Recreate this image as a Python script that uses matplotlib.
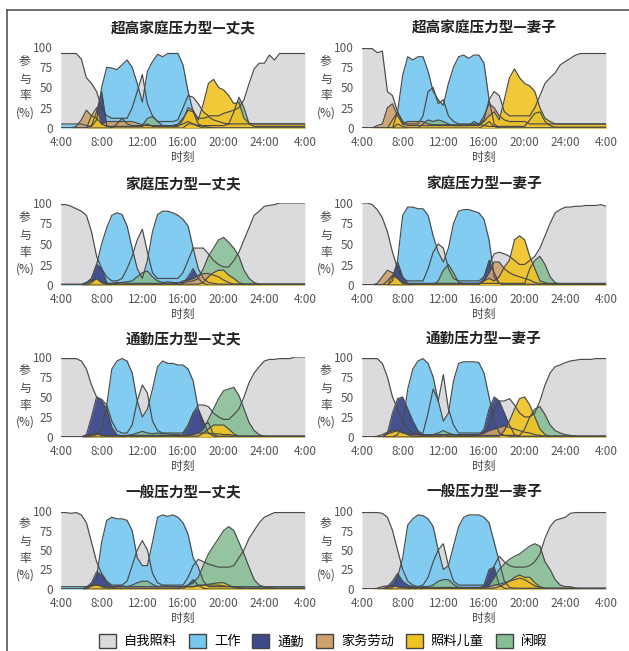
import numpy as np
import matplotlib.pyplot as plt
from matplotlib.patches import Patch
from matplotlib.lines import Line2D

plt.rcParams['font.family'] = ['Noto Sans CJK SC', 'DejaVu Sans']

# 时间轴: 4:00 到次日 4:00, 每半小时一个点
hours = np.arange(4, 28.5, 0.5)
tick_hours = [4, 8, 12, 16, 20, 24, 28]
tick_labels = ['4:00', '8:00', '12:00', '16:00', '20:00', '24:00', '4:00']
activities = ['自我照料', '工作', '通勤', '家务劳动', '照料儿童', '闲暇']
titles = ['超高家庭压力型—丈夫', '超高家庭压力型—妻子',
          '家庭压力型—丈夫', '家庭压力型—妻子',
          '通勤压力型—丈夫', '通勤压力型—妻子',
          '一般压力型—丈夫', '一般压力型—妻子']

# 超高家庭压力型—丈夫
p1_self = [92,92,92,92,85,62,55,45,25,15,12,12,12,12,25,45,66,30,15,8,8,8,8,10,25,40,38,30,20,15,15,15,18,20,22,25,35,55,73,80,80,90,84,92,92,92,92,92,92]
p1_work = [5,5,5,5,5,3,2,10,50,75,74,72,78,84,75,55,32,70,82,91,88,92,92,92,78,45,20,5,2,1,0,0,0,0,0,0,0,0,0,0,0,0,0,0,0,0,0,0,0]
p1_commute = [0,0,0,0,0,0,3,20,45,3,0,0,0,0,0,0,0,0,0,0,0,0,0,0,0,5,5,2,0,0,0,0,0,0,0,0,0,0,0,0,0,0,0,0,0,0,0,0,0]
p1_house = [0,0,0,2,10,22,15,12,5,8,8,8,8,8,8,6,4,3,3,3,3,3,3,5,12,22,20,12,12,14,10,8,6,5,5,5,5,5,5,5,5,5,5,5,5,5,5,5,5]
p1_child = [0,0,0,0,0,0,15,25,5,2,2,2,2,2,2,2,2,5,2,2,2,2,2,2,10,25,22,10,30,55,60,50,47,40,30,32,12,6,5,5,5,5,5,5,5,5,5,5,5]
p1_leisure = [0,0,0,0,0,0,0,0,0,0,0,5,12,5,3,3,3,12,14,8,3,3,3,3,5,8,5,3,3,3,3,3,3,5,20,38,25,5,2,2,2,2,2,2,2,2,2,2,2]

# 超高家庭压力型—妻子
p2_self = [98,98,98,93,95,45,40,20,8,5,5,5,15,45,50,30,35,15,8,5,5,5,5,5,10,35,45,40,20,15,15,15,15,15,25,40,55,62,68,78,82,86,90,92,92,92,92,92,92]
p2_work = [0,0,0,0,0,0,0,20,65,88,84,88,88,70,45,35,28,55,75,88,90,86,90,90,80,35,5,0,0,0,0,0,0,0,0,0,0,0,0,0,0,0,0,0,0,0,0,0,0]
p2_commute = [0,0,0,0,0,0,0,5,2,0,0,0,0,0,0,0,0,0,0,0,0,0,0,0,3,8,2,0,0,0,0,0,0,0,0,0,0,0,0,0,0,0,0,0,0,0,0,0,0]
p2_house = [0,0,0,3,5,25,30,15,5,8,8,8,8,5,4,4,4,4,4,4,4,4,4,4,15,30,25,15,10,8,8,8,8,5,5,5,5,5,5,5,5,5,5,5,5,5,5,5,5]
p2_child = [0,0,0,0,0,0,10,20,5,3,3,3,3,3,3,3,3,3,3,3,3,3,3,3,8,15,20,10,35,62,73,62,55,52,45,25,12,8,5,5,5,5,5,5,5,5,5,5,5]
p2_leisure = [0,0,0,0,0,0,0,0,0,0,0,0,5,10,8,10,8,5,3,3,3,3,8,5,3,2,2,2,2,2,2,2,2,10,18,20,8,3,1,1,1,1,1,1,1,1,1,1,1]

# 家庭压力型—丈夫
p3_self = [98,98,96,93,90,85,65,35,20,10,5,5,8,20,35,55,68,40,15,8,8,8,8,8,15,30,45,45,45,38,30,25,22,22,30,40,55,70,85,90,96,97,98,100,100,100,100,100,100]
p3_work = [1,1,1,1,1,3,8,25,50,70,85,88,86,72,45,20,8,30,65,86,90,90,88,85,80,72,45,20,8,3,2,1,1,1,1,1,1,1,1,1,1,1,1,1,1,1,1,1,1]
p3_commute = [0,0,0,0,0,2,8,25,20,3,0,0,0,0,0,0,0,0,0,0,0,0,0,0,2,10,20,8,2,0,0,0,0,0,0,0,0,0,0,0,0,0,0,0,0,0,0,0,0]
p3_house = [0,0,0,0,0,3,5,8,3,2,2,2,3,2,2,2,2,2,2,2,2,2,2,2,5,6,8,12,14,14,12,10,6,3,1,1,1,1,1,1,1,1,1,1,1,1,1,1,1]
p3_child = [0,0,0,0,0,0,3,8,3,1,1,1,1,1,1,1,1,1,1,1,1,1,1,1,1,1,1,1,3,10,15,18,18,12,8,3,1,1,1,1,1,1,1,1,1,1,1,1,1]
p3_leisure = [0,0,0,0,0,0,0,0,0,0,2,3,3,4,5,10,15,17,10,5,3,4,3,3,3,4,5,8,20,35,45,55,58,52,45,35,18,8,3,1,0,0,0,0,0,0,0,0,0]

# 家庭压力型—妻子
p4_self = [100,100,98,92,82,65,40,20,8,5,5,5,5,20,40,50,45,20,8,5,5,5,5,5,10,25,38,40,38,35,30,25,25,30,35,45,60,75,88,92,95,95,96,96,97,97,97,98,96]
p4_work = [0,0,0,0,0,0,5,30,85,95,95,93,93,85,60,40,28,45,75,90,92,92,90,88,80,55,10,2,1,1,1,1,1,1,1,1,2,2,2,2,2,2,2,2,2,2,2,2,2]
p4_commute = [0,0,0,0,0,0,10,28,10,2,0,0,0,0,0,0,0,0,0,0,0,0,0,0,10,30,15,2,0,0,0,0,0,0,0,0,0,0,0,0,0,0,0,0,0,0,0,0,0]
p4_house = [0,0,0,2,10,18,15,8,3,2,2,2,2,2,2,2,2,2,2,2,2,2,2,2,5,15,28,28,20,15,12,10,8,6,3,2,1,1,1,1,1,1,1,1,1,1,1,1,1]
p4_child = [0,0,0,0,0,5,12,8,2,1,1,1,1,1,1,1,1,1,1,1,1,1,1,1,5,8,5,10,22,30,55,60,55,35,20,5,3,1,1,1,1,1,1,1,1,1,1,1,1]
p4_leisure = [0,0,0,0,0,0,0,0,0,0,0,0,0,0,0,5,18,25,15,3,2,2,2,2,2,2,2,2,2,2,2,2,2,20,30,35,25,10,3,1,0,0,0,0,0,0,0,0,0]

# 通勤压力型—丈夫
p5_self = [98,98,98,98,95,85,65,50,47,40,20,8,5,5,15,45,65,55,20,8,5,5,5,5,5,15,30,40,40,38,30,25,22,22,28,35,50,68,80,88,95,97,97,98,98,98,100,100,100]
p5_work = [0,0,0,0,0,0,1,3,10,40,85,95,98,95,80,45,25,35,60,88,95,92,92,90,90,85,70,35,15,18,3,1,1,1,1,1,1,1,1,1,1,1,1,1,1,1,1,1,1]
p5_commute = [0,0,0,0,0,3,25,50,45,35,12,3,1,0,0,0,0,0,0,0,0,0,0,0,3,12,30,35,20,5,1,0,0,0,0,0,0,0,0,0,0,0,0,0,0,0,0,0,0]
p5_house = [0,0,0,0,0,2,3,4,2,2,2,2,2,2,2,2,2,2,2,2,2,2,2,2,2,3,4,5,5,5,4,4,3,3,2,1,1,1,1,1,1,1,1,1,1,1,1,1,1]
p5_child = [0,0,0,0,0,0,3,5,2,1,1,1,1,1,1,1,1,1,1,1,1,1,1,1,1,1,1,1,5,10,15,15,15,10,4,1,1,1,1,1,1,1,1,1,1,1,1,1,1]
p5_leisure = [0,0,0,0,0,0,0,0,0,0,0,0,0,2,3,5,7,5,4,5,4,4,3,3,2,2,3,5,10,22,35,48,58,60,62,52,35,18,8,3,1,0,0,0,0,0,0,0,0]

# 通勤压力型—妻子
p6_self = [98,98,98,98,92,75,50,35,20,10,5,3,5,30,60,45,78,35,15,5,5,5,5,5,5,15,35,45,45,48,40,30,25,25,30,45,65,80,88,90,93,95,96,97,97,97,98,98,98]
p6_work = [0,0,0,0,0,0,0,3,15,60,85,95,98,92,75,45,20,30,70,92,94,94,94,93,80,50,20,5,2,1,1,1,1,1,1,1,1,1,1,1,1,1,1,1,1,1,1,1,1]
p6_commute = [0,0,0,0,0,5,30,48,50,35,20,8,3,1,1,1,3,1,1,1,1,1,1,2,10,35,50,45,30,15,3,0,0,0,0,0,0,0,0,0,0,0,0,0,0,0,0,0,0]
p6_house = [0,0,0,1,3,6,8,8,5,4,3,3,3,3,3,3,3,3,3,3,3,3,3,3,5,8,10,12,14,12,10,8,6,5,3,2,1,1,1,1,1,1,1,1,1,1,1,1,1]
p6_child = [0,0,0,0,0,4,6,8,6,3,1,1,1,1,1,1,1,1,1,1,1,1,1,1,1,1,1,1,8,20,35,48,50,40,25,10,3,1,1,1,1,1,1,1,1,1,1,1,1]
p6_leisure = [0,0,0,0,0,0,0,0,0,0,0,0,2,2,3,5,8,5,3,2,2,2,2,2,2,2,2,2,2,2,2,2,10,25,35,38,28,15,8,5,3,2,1,0,0,0,0,0,0]

# 一般压力型—丈夫
p7_self = [98,98,97,98,95,85,60,35,20,10,5,5,5,10,30,50,62,50,20,8,5,5,5,5,5,15,30,38,35,32,30,28,28,28,30,40,50,65,75,85,92,95,98,98,98,98,98,98,98]
p7_work = [3,3,3,3,3,3,5,15,60,88,92,90,90,88,75,40,30,30,60,92,95,93,95,92,85,70,40,28,10,3,3,3,3,3,3,3,3,3,3,3,3,3,3,3,3,3,3,3,3]
p7_commute = [0,0,0,0,0,2,8,22,18,8,3,0,0,0,0,0,0,0,0,0,0,0,0,0,0,5,12,5,1,0,0,0,0,0,0,0,0,0,0,0,0,0,0,0,0,0,0,0,0]
p7_house = [0,0,0,0,0,2,4,5,4,3,3,3,3,3,3,3,3,3,3,3,3,3,3,3,3,3,3,4,5,5,5,5,4,3,3,2,1,1,1,1,1,1,1,1,1,1,1,1,1]
p7_child = [0,0,0,0,0,0,4,6,3,1,1,1,1,1,1,1,1,1,1,1,1,1,1,1,3,3,3,5,5,6,7,8,8,5,2,1,1,1,1,1,1,1,1,1,1,1,1,1,1]
p7_leisure = [0,0,0,0,0,0,0,0,0,0,3,4,4,3,5,8,10,10,6,3,4,4,3,3,3,5,8,15,30,45,55,65,75,80,75,60,45,28,12,5,3,2,1,0,0,0,0,0,0]

# 一般压力型—妻子
p8_self = [98,98,98,98,97,92,75,50,25,10,5,3,5,15,35,50,58,30,10,5,5,5,5,5,5,10,30,42,35,30,28,28,28,30,35,45,65,80,88,90,92,97,98,98,98,98,98,98,98]
p8_work = [0,0,0,0,0,0,2,15,40,82,90,95,94,90,80,50,25,30,55,80,92,95,95,95,92,85,60,35,10,2,1,1,1,1,1,1,1,1,1,1,1,1,1,1,1,1,1,1,1]
p8_commute = [0,0,0,0,0,3,10,20,10,5,3,2,0,0,0,0,0,0,0,0,0,0,0,0,5,25,28,5,1,0,0,0,0,0,0,0,0,0,0,0,0,0,0,0,0,0,0,0,0]
p8_house = [0,0,0,1,3,4,4,3,2,2,2,2,2,2,2,2,2,2,2,2,2,2,2,2,2,3,5,6,8,10,12,14,12,8,4,2,1,1,1,1,1,1,1,1,1,1,1,1,1]
p8_child = [0,0,0,0,0,2,4,3,2,1,1,1,1,1,1,1,1,1,1,1,1,1,1,1,1,1,1,3,6,10,15,18,15,15,8,3,1,0,0,0,0,0,0,0,0,0,0,0,0]
p8_leisure = [0,0,0,0,0,0,0,0,0,0,0,2,3,3,5,10,12,12,6,2,2,2,2,2,2,5,15,25,32,38,42,45,50,55,58,55,35,25,12,5,3,3,1,0,0,0,0,0,0]

panels = [
    [p1_self, p1_work, p1_commute, p1_house, p1_child, p1_leisure],
    [p2_self, p2_work, p2_commute, p2_house, p2_child, p2_leisure],
    [p3_self, p3_work, p3_commute, p3_house, p3_child, p3_leisure],
    [p4_self, p4_work, p4_commute, p4_house, p4_child, p4_leisure],
    [p5_self, p5_work, p5_commute, p5_house, p5_child, p5_leisure],
    [p6_self, p6_work, p6_commute, p6_house, p6_child, p6_leisure],
    [p7_self, p7_work, p7_commute, p7_house, p7_child, p7_leisure],
    [p8_self, p8_work, p8_commute, p8_house, p8_child, p8_leisure],
]

colors = ['#dbdbdd', '#76c8ef', '#3e4a8c', '#cfa26c', '#f0c322', '#86bd93']
alphas = [1.0, 0.92, 0.95, 0.9, 0.9, 0.88]
draw_order = [0, 1, 2, 5, 3, 4]   # 照料儿童画在最上层

W, H = 629, 651
col_left = [61, 362]
row_px = [(47, 128), (203, 285), (357, 437), (511, 589)]   # (100%, 0%) 的像素位置

fig = plt.figure(figsize=(W / 100, H / 100), dpi=100)

for i, vals in enumerate(panels):
    r, c = divmod(i, 2)
    top, bot = row_px[r]
    ax = fig.add_axes([col_left[c] / W, 1 - bot / H, 244 / W, (bot - top) / H])
    for k in draw_order:
        ax.fill_between(hours, vals[k], color=colors[k], alpha=alphas[k], lw=0)
        ax.plot(hours, vals[k], color='#4a4a4a', lw=0.85)
    ax.set_xlim(4, 28)
    ax.set_ylim(0, 100)
    ax.set_xticks(tick_hours)
    ax.set_xticklabels(tick_labels)
    ax.set_yticks([0, 25, 50, 75, 100])
    ax.tick_params(length=0, labelsize=8.5, colors='#555555', pad=6)
    for s in ax.spines.values():
        s.set_visible(False)
    ax.set_xlabel('时刻', fontsize=8.5, color='#444444', labelpad=1)
    ax.text(-0.148, 0.5, '参\n与\n率\n(%)', transform=ax.transAxes, ha='center', va='center',
            fontsize=8.5, color='#444444', linespacing=1.4)
    ax.text(0.5, 1 + 19 / (bot - top), titles[i], transform=ax.transAxes, ha='center', va='center',
            fontsize=10.5, fontweight='bold', color='#222222')

handles = [Patch(facecolor=colors[k], edgecolor='#444444', lw=1) for k in range(6)]
fig.legend(handles, activities, loc='center', bbox_to_anchor=(323 / W, 1 - 641 / H), ncol=6,
           frameon=False, fontsize=9.5, handlelength=1.3, handleheight=1.3,
           columnspacing=0.9, handletextpad=0.6)

# 外框
fig.add_artist(Line2D([7 / W, 7 / W], [0, 1 - 9.5 / H], transform=fig.transFigure, color='#555555', lw=1.2))
fig.add_artist(Line2D([7 / W, 1], [1 - 9.5 / H, 1 - 9.5 / H], transform=fig.transFigure, color='#555555', lw=1.2))

fig.savefig('out.png', dpi=100)
